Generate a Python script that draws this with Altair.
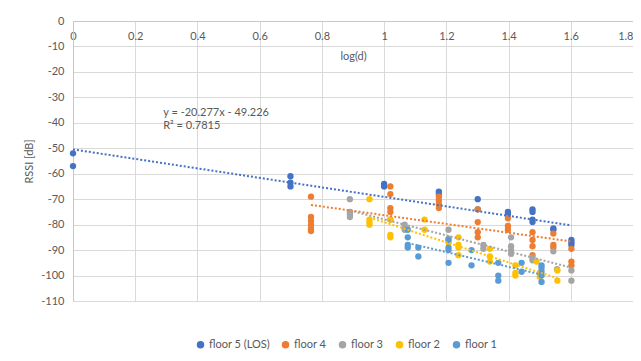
import altair as alt
import pandas as pd

floors = ["floor 5 (LOS)", "floor 4", "floor 3", "floor 2", "floor 1"]
colors = ["#4472C4", "#ED7D31", "#A5A5A5", "#FFC000", "#5B9BD5"]

f5_x = [0, 0, 0.699, 0.699, 0.699, 1.0, 1.0, 1.176, 1.176, 1.301, 1.301, 1.398, 1.398,
        1.477, 1.477, 1.477, 1.477, 1.544, 1.544, 1.602, 1.602, 1.602]
f5_y = [-52, -57, -61, -63.5, -65, -64, -65, -67, -68, -70, -74, -75, -76,
        -74, -75, -78, -79, -81.5, -82, -86, -87, -88]

f4_x = [0.765, 0.765, 0.765, 0.765, 0.765, 0.765, 1.02, 1.02, 1.02, 1.02, 1.02,
        1.176, 1.176, 1.176, 1.176, 1.301, 1.301, 1.301, 1.301, 1.398, 1.398, 1.398,
        1.477, 1.477, 1.477, 1.477, 1.544, 1.544, 1.544, 1.602, 1.602, 1.602]
f4_y = [-69, -77, -78.5, -80, -81.5, -82.5, -65, -68, -73.5, -75, -78,
        -69, -70.5, -72, -73.5, -74, -79, -83, -85, -77.5, -80.5, -82,
        -83, -86, -88.5, -92, -83.5, -88, -89, -89.5, -94.5, -96]

f3_x = [0.89, 0.89, 0.89, 0.89, 1.066, 1.066, 1.066, 1.207, 1.207, 1.319, 1.319,
        1.408, 1.408, 1.408, 1.408, 1.477, 1.477, 1.544, 1.556, 1.602, 1.602]
f3_y = [-70, -75, -76, -77, -80, -81, -82, -82, -85.5, -88, -89.5,
        -85, -88.5, -90, -91.5, -93, -94, -90.5, -97.5, -98, -102]

f2_x = [0.953, 0.953, 0.953, 0.953, 1.02, 1.02, 1.02, 1.13, 1.13, 1.207,
        1.239, 1.239, 1.239, 1.239, 1.34, 1.34, 1.34, 1.422, 1.422, 1.422,
        1.49, 1.5, 1.5, 1.557, 1.557]
f2_y = [-70, -78, -79, -80, -78, -84, -85, -78, -82, -87,
        -85, -88, -89, -92, -89.5, -92.5, -94.5, -96, -99, -100,
        -94.5, -99, -100.5, -98, -102]

f1_x = [1.076, 1.076, 1.076, 1.076, 1.11, 1.11, 1.207, 1.207, 1.207, 1.207,
        1.281, 1.281, 1.367, 1.367, 1.367, 1.442, 1.442,
        1.506, 1.506, 1.506, 1.506, 1.506]
f1_y = [-82, -85, -88, -89, -89, -92.5, -86, -89, -90, -95,
        -90, -96, -95, -100, -102, -95, -98.5,
        -96, -97, -98.5, -100, -102.5]

x_ticks = [0, 0.2, 0.4, 0.6, 0.8, 1, 1.2, 1.4, 1.6, 1.8]
y_ticks = [0, -10, -20, -30, -40, -50, -60, -70, -80, -90, -100, -110]

ann_text = ["y = -20.277x - 49.226", "R² = 0.7815"]
ann_x = [0.29, 0.29]
ann_y = [-36.1, -41.3]

rows = []
for name, xs, ys in zip(floors, [f5_x, f4_x, f3_x, f2_x, f1_x], [f5_y, f4_y, f3_y, f2_y, f1_y]):
    for a, b in zip(xs, ys):
        rows.append({"x": a, "y": b, "floor": name})
df = pd.DataFrame(rows)
ann = pd.DataFrame({"x": ann_x, "y": ann_y, "text": ann_text})

W, H = 560, 280
FONT = "Lato"
TXT = "#595959"

xaxis = alt.Axis(title="log(d)", orient="bottom", offset=-H, values=x_ticks,
                 labelExpr="toString(datum.value)", labelPadding=9,
                 titlePadding=9, labelFlush=False, labelOverlap=False,
                 labelAlign={"condition": {"test": "datum.value >= 1.8", "value": "right"},
                             "value": "center"})
yaxis = alt.Axis(title="RSSI [dB]", values=y_ticks, labelOverlap=False,
                 labelExpr="toString(datum.value)", labelPadding=9,
                 titlePadding=6, labelFlush=False, labelBound=False)
xscale = alt.Scale(domain=[0, 1.8], nice=False, zero=False)
yscale = alt.Scale(domain=[-110, 0], nice=False, zero=False)
cscale = alt.Scale(domain=floors, range=colors)

color = alt.Color("floor:N", scale=cscale, sort=floors,
                  legend=alt.Legend(orient="none", legendX=122, legendY=318,
                                    direction="horizontal", title=None,
                                    symbolType="circle", symbolSize=36,
                                    labelFontSize=11, labelColor=TXT, labelFont=FONT,
                                    labelOffset=3, columnPadding=9, padding=0))

base = alt.Chart(df)
points = base.mark_circle(size=40, opacity=1).encode(
    x=alt.X("x:Q", scale=xscale, axis=xaxis),
    y=alt.Y("y:Q", scale=yscale, axis=yaxis),
    color=color)
lines = base.transform_regression("x", "y", groupby=["floor"]).mark_line(
    strokeDash=[2, 2], strokeWidth=2).encode(
    x=alt.X("x:Q", scale=xscale, axis=xaxis),
    y=alt.Y("y:Q", scale=yscale, axis=yaxis),
    color=alt.Color("floor:N", legend=None, scale=cscale))
text = alt.Chart(ann).mark_text(align="left", baseline="middle", font=FONT,
                                fontSize=11, color=TXT).encode(
    x=alt.X("x:Q", scale=xscale, axis=xaxis),
    y=alt.Y("y:Q", scale=yscale, axis=yaxis),
    text="text:N")

chart = alt.layer(points, lines, text).properties(
    width=W, height=H,
    padding={"left": 65, "top": 13, "right": 0, "bottom": 50},
    autosize=alt.AutoSizeParams(type="none"),
).configure_view(stroke=None).configure_axis(
    gridColor="#D9D9D9", domainColor="#C8C8C8", ticks=False, labelOverlap=False,
    labelColor=TXT, labelFont=FONT, labelFontSize=11,
    titleColor=TXT, titleFont=FONT, titleFontSize=11, titleFontWeight="normal",
)

chart.save("out.html", embed_options={"renderer": "svg", "actions": False})
